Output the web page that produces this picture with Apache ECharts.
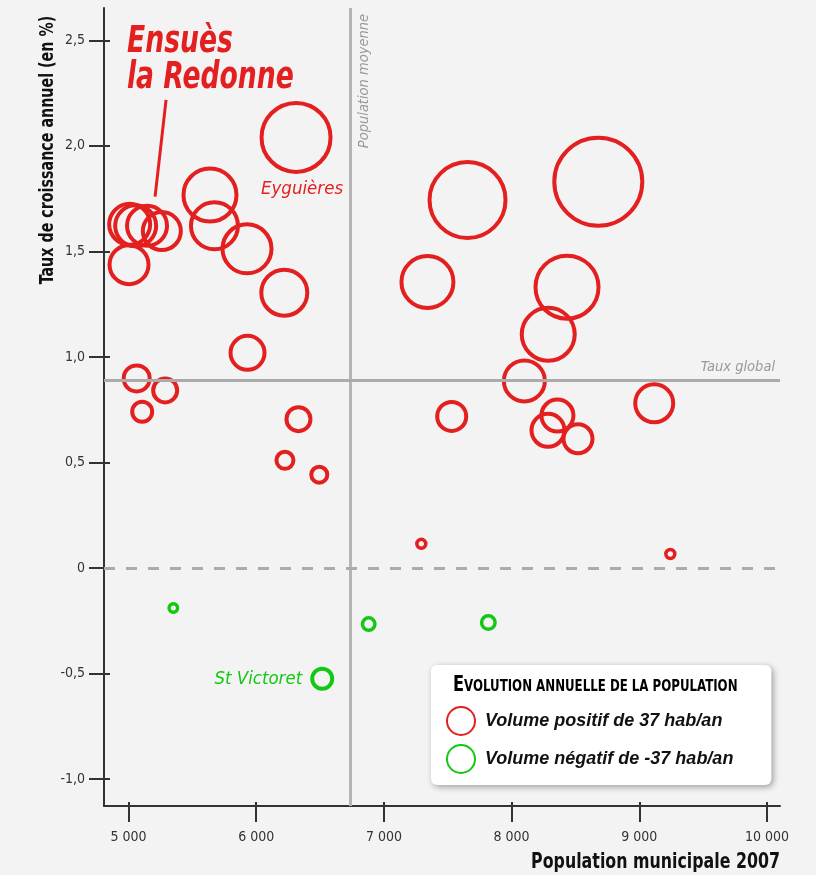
<!DOCTYPE html>
<html><head><meta charset="utf-8">
<script src="https://cdn.jsdelivr.net/npm/echarts@6/dist/echarts.min.js"></script>
<style>html,body{margin:0;padding:0;background:#f3f3f3}#c{width:816px;height:875px}</style>
</head><body><div id="c"></div>
<script>
// ---- data ----
const posPopulation = [6312, 5638, 5673, 5928, 6220, 5004, 5009, 5056, 5145, 5261, 7655, 8679, 7341, 8434, 8287, 8100, 9117, 7531, 8359, 8285, 8520, 7293, 9243, 5064, 5287, 5107, 5932, 6331, 6225, 6494];
const posRate = [2.04, 1.767, 1.621, 1.512, 1.304, 1.437, 1.628, 1.621, 1.621, 1.596, 1.743, 1.830, 1.355, 1.330, 1.107, 0.886, 0.780, 0.718, 0.722, 0.652, 0.612, 0.114, 0.066, 0.898, 0.841, 0.740, 1.019, 0.705, 0.510, 0.442];
const posVolume = [138, 106, 94, 98, 92, 78, 82, 82, 80, 76, 152, 176, 104, 126, 106, 82, 76, 58, 64, 66, 58, 18, 18, 52, 48, 40, 68, 48, 34, 32];
const posNames = ['Eyguières', '', '', '', '', '', '', '', '', '', '', '', '', '', '', '', '', '', '', '', '', '', '', '', '', '', '', '', '', ''];
const negPopulation = [5351, 6881, 7818, 6517];
const negRate = [-0.190, -0.266, -0.259, -0.525];
const negVolume = [-17, -25, -27, -40];
const negNames = ['', '', '', 'St Victoret'];
const xTicks = [5000, 6000, 7000, 8000, 9000, 10000];
const yTicks = [-1, -0.5, 0, 0.5, 1, 1.5, 2, 2.5];
const averagePopulation = 6740;
const globalRate = 0.889;
const ensuesName = 'Ensuès\nla Redonne';
const ensuesPointer = [[5208, 1.759], [5294, 2.218]];
const seriesNames = ['Volume positif de 37 hab/an', 'Volume négatif de -37 hab/an'];

// ---- styling ----
const RED = '#e3201f', GREEN = '#12c812';
const COND = "'DejaVu Sans Condensed','Liberation Sans Narrow',sans-serif";
const SANS = "'Liberation Sans',Arial,sans-serif";
const sizeOf = v => Math.abs(v) * 0.5;
const ringWidth = v => Math.abs(v) < 30 ? 3.5 : 4;
const fmtX = v => String(v).replace(/\B(?=(\d{3})+(?!\d))/g, ' ');
const fmtY = v => v === 0 ? '0' : v.toFixed(1).replace('.', ',');

const labelStyles = {
  'Eyguières': { position: 'bottom', distance: 6, offset: [6, 0], color: RED, fontStyle: 'italic', fontSize: 18.5, fontFamily: COND },
  'St Victoret': { position: 'left', distance: 8, color: GREEN, fontStyle: 'italic', fontSize: 18.5, fontFamily: COND }
};

function buildData(pops, rates, vols, names) {
  return pops.map((p, i) => {
    const item = { value: [p, rates[i], vols[i]], itemStyle: { borderWidth: ringWidth(vols[i]) } };
    if (names[i]) item.label = Object.assign({ show: true, formatter: names[i] }, labelStyles[names[i]]);
    return item;
  });
}

const xMin = 4808, xMax = 10102, yMin = -1.128, yMax = 2.653;
const axisCommon = { type: 'value', splitLine: { show: false } };

const chart = echarts.init(document.getElementById('c'), null, { renderer: 'canvas' });
chart.setOption({
  backgroundColor: '#f3f3f3',
  animation: false,
  grid: { left: 104, right: 36, top: 8, bottom: 69 },
  xAxis: [
    Object.assign({}, axisCommon, {
      min: xMin, max: xMax, position: 'bottom',
      axisLine: { onZero: false, lineStyle: { color: '#333', width: 2 } },
      axisTick: { customValues: xTicks, length: 16, lineStyle: { color: '#333', width: 2 } },
      axisLabel: { customValues: xTicks, formatter: fmtX, margin: 24, fontSize: 14, color: '#333', fontFamily: COND }
    }),
    Object.assign({}, axisCommon, {
      min: xMin, max: xMax, position: 'bottom',
      axisLine: { show: false, onZero: false },
      axisTick: { customValues: xTicks, inside: true, length: 4, lineStyle: { color: '#333', width: 2 } },
      axisLabel: { show: false }
    })
  ],
  yAxis: [
    Object.assign({}, axisCommon, {
      min: yMin, max: yMax, position: 'left',
      axisLine: { onZero: false, lineStyle: { color: '#333', width: 2 } },
      axisTick: { customValues: yTicks, length: 15, lineStyle: { color: '#333', width: 2 } },
      axisLabel: { customValues: yTicks, formatter: fmtY, margin: 19, fontSize: 14, color: '#333', fontFamily: COND }
    }),
    Object.assign({}, axisCommon, {
      min: yMin, max: yMax, position: 'left',
      axisLine: { show: false, onZero: false },
      axisTick: { customValues: yTicks, inside: true, length: 6, lineStyle: { color: '#333', width: 2 } },
      axisLabel: { show: false }
    })
  ],
  legend: {
    left: 431, top: 665, orient: 'vertical',
    padding: [41, 38, 11, 15], itemGap: 8, itemWidth: 28, itemHeight: 28,
    backgroundColor: '#ffffff', borderRadius: 6,
    shadowBlur: 6, shadowColor: 'rgba(0,0,0,0.35)', shadowOffsetX: 2, shadowOffsetY: 2,
    selectedMode: false,
    data: [{ name: seriesNames[0], icon: 'circle' }, { name: seriesNames[1], icon: 'circle' }],
    textStyle: { fontFamily: SANS, fontWeight: 'bold', fontStyle: 'italic', fontSize: 18, color: '#111', padding: [0, 0, 0, 5] }
  },
  graphic: [
    { type: 'text', x: 48, y: 150, rotation: Math.PI / 2, scaleX: 0.835, z: 100,
      style: { text: 'Taux de croissance annuel (en %)', align: 'center', verticalAlign: 'middle', fontFamily: COND, fontWeight: 'bold', fontSize: 19, fill: '#111' } },
    { type: 'text', x: 780, y: 862, scaleX: 0.8, z: 100,
      style: { text: 'Population municipale 2007', align: 'right', verticalAlign: 'middle', fontFamily: COND, fontWeight: 'bold', fontSize: 22, fill: '#111' } },
    { type: 'text', x: 453, y: 685, scaleX: 0.82, z: 100,
      style: { text: '{a|E}{b|VOLUTION ANNUELLE DE LA POPULATION}', align: 'left', verticalAlign: 'middle',
        rich: { a: { fontFamily: COND, fontWeight: 'bold', fontSize: 22, color: '#111', verticalAlign: 'bottom', lineHeight: 22 },
                b: { fontFamily: COND, fontWeight: 'bold', fontSize: 16, color: '#111', verticalAlign: 'bottom', lineHeight: 22, padding: [0, 0, 1, 0] } } } },
    { type: 'text', x: 127, y: 24, scaleX: 0.8, z: 100,
      style: { text: ensuesName, align: 'left', verticalAlign: 'top', fontFamily: COND, fontWeight: 'bold', fontStyle: 'italic', fontSize: 37, lineHeight: 36, fill: RED } }
  ],
  series: [
    {
      type: 'scatter', name: 'refs', data: [], z: 1, silent: true,
      markLine: {
        silent: true, symbol: 'none', animation: false,
        data: [
          { xAxis: averagePopulation, lineStyle: { color: '#b5b5b5', width: 3, type: 'solid' },
            label: { show: true, formatter: 'Population moyenne', position: 'insideEndBottom', distance: 6, color: '#999', fontStyle: 'italic', fontSize: 14.5, fontFamily: COND } },
          { yAxis: globalRate, lineStyle: { color: '#ababab', width: 3, type: 'solid' },
            label: { show: true, formatter: 'Taux global', position: 'insideEndTop', distance: 5, color: '#999', fontStyle: 'italic', fontSize: 14.5, fontFamily: COND } },
          { yAxis: 0, lineStyle: { color: '#ababab', width: 3, type: [11, 11] }, label: { show: false } }
        ]
      }
    },
    {
      type: 'scatter', name: seriesNames[0], z: 3,
      symbol: 'circle', symbolSize: v => sizeOf(v[2]),
      itemStyle: { color: 'rgba(0,0,0,0)', borderColor: RED, borderWidth: 4, opacity: 1 },
      emphasis: { disabled: true },
      data: buildData(posPopulation, posRate, posVolume, posNames),
      markLine: {
        silent: true, symbol: 'none', animation: false,
        lineStyle: { color: RED, width: 3, type: 'solid' }, label: { show: false },
        data: [[{ coord: ensuesPointer[0] }, { coord: ensuesPointer[1] }]]
      }
    },
    {
      type: 'scatter', name: seriesNames[1], z: 3,
      symbol: 'circle', symbolSize: v => sizeOf(v[2]),
      itemStyle: { color: 'rgba(0,0,0,0)', borderColor: GREEN, borderWidth: 4, opacity: 1 },
      emphasis: { disabled: true },
      data: buildData(negPopulation, negRate, negVolume, negNames)
    }
  ]
});
</script></body></html>
